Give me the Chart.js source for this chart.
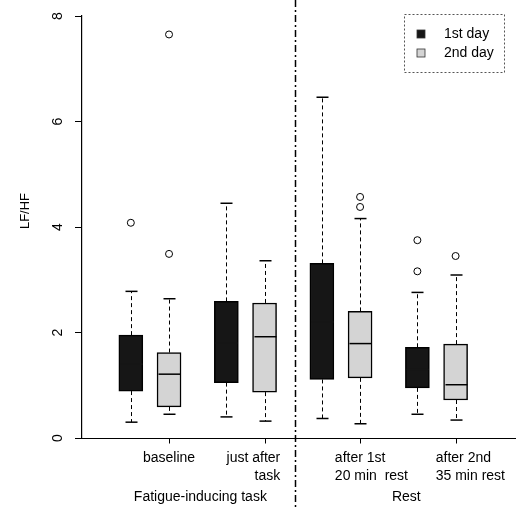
<!DOCTYPE html>
<html><head><meta charset="utf-8">
<script src="https://cdn.jsdelivr.net/npm/chart.js@4/dist/chart.umd.min.js"></script>
<style>html,body{margin:0;padding:0;background:#fff}#wrap{width:516px;height:508px;position:relative}</style>
</head><body><div id="wrap"><canvas id="c" width="516" height="508"></canvas></div>
<script>
// ---- data ----
const categories = ['baseline', ['just after', 'task'], ['after 1st', '20 min  rest'], ['after 2nd', '35 min rest']];
const groupNames = ['Fatigue-inducing task', 'Rest'];
const seriesNames = ['1st day', '2nd day'];
const yTicks = [0, 2, 4, 6, 8];
const yTitle = 'LF/HF';

const day1Min = [0.30, 0.40, 0.37, 0.45];
const day1Q1 = [0.89, 1.05, 1.11, 0.95];
const day1Median = [1.40, 1.80, 2.20, 1.30];
const day1Q3 = [1.95, 2.59, 3.31, 1.72];
const day1Max = [2.78, 4.45, 6.46, 2.76];
const day1Outliers = [[4.08], [], [], [3.75, 3.16]];

const day2Min = [0.45, 0.32, 0.27, 0.34];
const day2Q1 = [0.59, 0.87, 1.14, 0.72];
const day2Median = [1.21, 1.92, 1.79, 1.01];
const day2Q3 = [1.62, 2.56, 2.40, 1.78];
const day2Max = [2.64, 3.36, 4.16, 3.09];
const day2Outliers = [[3.49, 7.65], [], [4.57, 4.38], [3.45]];

// ---- layout (x slots on a linear axis) ----
const day1X = [1, 3.5, 6, 8.5];
const day2X = [2, 4.5, 7, 9.5];
const labelAnchor = [2, 4.91, 6.34, 8.98];
const labelAlign = ['center', 'right', 'left', 'left'];
const groupAnchor = [2.82, 8.21];
const separatorX = 5.3;

const FONT = "'Liberation Sans', Arial, sans-serif";
const DARK = '#161616', LIGHT = '#d4d4d4';

const summaries = [
  {pos: day1X, lo: day1Min, q1: day1Q1, med: day1Median, q3: day1Q3, hi: day1Max, medColor: '#161616'},
  {pos: day2X, lo: day2Min, q1: day2Q1, med: day2Median, q3: day2Q3, hi: day2Max, medColor: '#000'}
];

function outlierPoints(pos, arrs) {
  const out = [];
  arrs.forEach((a, i) => a.forEach(v => out.push({x: pos[i], y: v})));
  return out;
}

function seg(ctx, x1, y1, x2, y2) { ctx.beginPath(); ctx.moveTo(x1, y1); ctx.lineTo(x2, y2); ctx.stroke(); }

function drawBoxExtras(chart) {
  const ctx = chart.ctx, xs = chart.scales.x, ys = chart.scales.y;
  ctx.save();
  summaries.forEach(s => {
    s.pos.forEach((p, i) => {
      const px = Math.round(xs.getPixelForValue(p)) + 0.5;
      const half = 11;
      const yq3 = ys.getPixelForValue(s.q3[i]), yhi = ys.getPixelForValue(s.hi[i]);
      const yq1 = ys.getPixelForValue(s.q1[i]), ylo = ys.getPixelForValue(s.lo[i]);
      const ymed = ys.getPixelForValue(s.med[i]);
      ctx.strokeStyle = '#000';
      ctx.lineWidth = 1;
      ctx.setLineDash([4, 3]);
      seg(ctx, px, yq3, px, yhi);
      seg(ctx, px, yq1, px, ylo);
      ctx.setLineDash([]);
      ctx.lineWidth = 1.5;
      seg(ctx, px - 6, yhi, px + 6, yhi);
      seg(ctx, px - 6, ylo, px + 6, ylo);
      ctx.strokeStyle = s.medColor;
      seg(ctx, px - half, ymed, px + half, ymed);
    });
  });
  ctx.restore();
}

const extras = {
  id: 'extras',
  afterDraw(chart) {
    const {ctx, chartArea} = chart;
    const x = chart.scales.x, y = chart.scales.y;
    drawBoxExtras(chart);
    ctx.save();
    // x axis line across to the right edge, with tick marks at the category slots
    ctx.strokeStyle = '#000'; ctx.lineWidth = 1.2;
    const by = Math.round(chartArea.bottom) + 0.5;
    seg(ctx, chartArea.left, by, chart.width, by);
    ctx.lineWidth = 1;
    x.ticks.forEach(t => {
      const tx = Math.round(x.getPixelForValue(t.value)) + 0.5;
      seg(ctx, tx, by, tx, by + 5);
    });
    ctx.fillStyle = '#000';
    // y tick labels (rotated)
    ctx.font = '14px ' + FONT;
    ctx.textAlign = 'center'; ctx.textBaseline = 'middle';
    yTicks.forEach(v => {
      ctx.save();
      ctx.translate(58, y.getPixelForValue(v));
      ctx.rotate(-Math.PI / 2);
      ctx.fillText(String(v), 0, 0);
      ctx.restore();
    });
    // y title
    ctx.save();
    ctx.font = '13px ' + FONT;
    ctx.translate(25, 211);
    ctx.rotate(-Math.PI / 2);
    ctx.fillText(yTitle, 0, 0);
    ctx.restore();
    // x category labels
    ctx.font = '14px ' + FONT;
    categories.forEach((c, i) => {
      const lines = Array.isArray(c) ? c : [c];
      ctx.textAlign = labelAlign[i];
      const px = x.getPixelForValue(labelAnchor[i]);
      lines.forEach((t, j) => ctx.fillText(t, px, 458 + j * 18.5));
    });
    // group labels
    ctx.textAlign = 'center';
    groupNames.forEach((g, i) => ctx.fillText(g, x.getPixelForValue(groupAnchor[i]), 497));
    // separator dash-dot
    const sx = Math.round(x.getPixelForValue(separatorX)) + 0.5;
    ctx.strokeStyle = '#000'; ctx.lineWidth = 1.5;
    ctx.setLineDash([7, 3, 2, 3]);
    seg(ctx, sx, 0, sx, chart.height);
    ctx.setLineDash([]);
    // legend
    const lx = 404.5, ly = 14.5, lw = 100, lh = 58;
    ctx.fillStyle = '#fff';
    ctx.fillRect(lx, ly, lw, lh);
    ctx.strokeStyle = '#555'; ctx.lineWidth = 1; ctx.setLineDash([2, 2]);
    ctx.strokeRect(lx, ly, lw, lh);
    ctx.setLineDash([]);
    const cols = [DARK, LIGHT];
    ctx.font = '14px ' + FONT; ctx.textAlign = 'left'; ctx.textBaseline = 'middle';
    seriesNames.forEach((n, i) => {
      const cy = 34 + i * 19;
      ctx.fillStyle = cols[i];
      ctx.fillRect(417, cy - 4, 8, 8);
      ctx.strokeStyle = '#333'; ctx.lineWidth = 0.8;
      ctx.strokeRect(417, cy - 4, 8, 8);
      ctx.fillStyle = '#000';
      ctx.fillText(n, 444, cy);
    });
    ctx.restore();
  }
};

const mkBars = (pos, q1, q3) => pos.map((p, i) => ({x: p, y: [q1[i], q3[i]]}));

new Chart(document.getElementById('c'), {
  type: 'bar',
  data: {
    datasets: [
      {type: 'bar', label: seriesNames[0], data: mkBars(day1X, day1Q1, day1Q3), backgroundColor: DARK, borderColor: '#000', borderWidth: 1.5, borderSkipped: false, barThickness: 24, grouped: false},
      {type: 'bar', label: seriesNames[1], data: mkBars(day2X, day2Q1, day2Q3), backgroundColor: LIGHT, borderColor: '#000', borderWidth: 1.5, borderSkipped: false, barThickness: 24, grouped: false},
      {type: 'scatter', label: 'out1', data: outlierPoints(day1X, day1Outliers), pointRadius: 3.5, pointBorderWidth: 1, pointBorderColor: '#000', pointBackgroundColor: 'rgba(0,0,0,0)', showLine: false},
      {type: 'scatter', label: 'out2', data: outlierPoints(day2X, day2Outliers), pointRadius: 3.5, pointBorderWidth: 1, pointBorderColor: '#000', pointBackgroundColor: 'rgba(0,0,0,0)', showLine: false}
    ]
  },
  options: {
    responsive: false,
    animation: false,
    devicePixelRatio: 1,
    layout: {padding: {top: 16, right: 0, bottom: 0, left: 0}},
    plugins: {legend: {display: false}, tooltip: {enabled: false}},
    scales: {
      x: {
        type: 'linear', min: -0.278, max: 10.95, offset: false,
        afterBuildTicks: s => { s.ticks = day2X.map(v => ({value: v})); },
        afterFit: s => { s.height = 70; },
        ticks: {display: false},
        grid: {display: false},
        border: {display: false}
      },
      y: {
        min: 0, max: 8,
        afterBuildTicks: s => { s.ticks = yTicks.map(v => ({value: v})); },
        afterFit: s => { s.width = 82; },
        ticks: {display: false},
        grid: {display: true, offset: false, drawOnChartArea: false, drawTicks: true, tickLength: 7, color: '#000'},
        border: {display: true, color: '#000', width: 1.2}
      }
    }
  },
  plugins: [extras]
});
</script>
</body></html>
